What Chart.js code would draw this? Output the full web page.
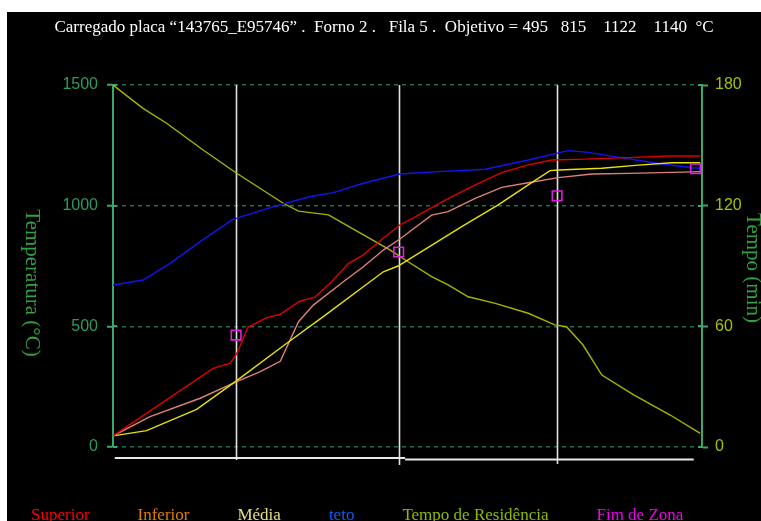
<!DOCTYPE html>
<html>
<head>
<meta charset="utf-8">
<script src="https://cdn.jsdelivr.net/npm/chart.js@4/dist/chart.umd.min.js"></script>
<style>
  html, body { margin: 0; padding: 0; background: #ffffff; }
  #wrap { position: absolute; left: 7px; top: 12px; width: 754px; height: 509px; background: #000000; overflow: hidden; }
  canvas { display: block; }
</style>
</head>
<body>
<div id="wrap"><canvas id="forno" width="754" height="509"></canvas></div>
<script>
// Position along the furnace (% of length) and readings for each curve
const posSuperior  = [0, 17.0, 19.9, 20.7, 21.3, 22.9, 26.1, 28.4, 31.7, 34.3, 37.1, 40.0, 42.5, 45.9, 48.7, 51.3, 56.4, 61.5, 66.0, 70.5, 74.5, 80.1, 87.5, 94.3, 99.7];
const tempSuperior = [46, 326, 347, 374, 402, 496, 536, 550, 604, 621, 685, 761, 796, 865, 920, 954, 1023, 1086, 1137, 1169, 1189, 1193, 1199, 1206, 1206];

const posInferior  = [0, 6.3, 14.8, 21.0, 25.0, 28.4, 31.5, 34.0, 39.1, 42.5, 45.9, 48.7, 54.1, 56.9, 61.5, 66.0, 70.5, 75.6, 81.3, 87.5, 94.9, 99.7];
const tempInferior = [46, 126, 202, 271, 312, 355, 519, 588, 685, 747, 816, 862, 961, 975, 1030, 1076, 1095, 1116, 1131, 1134, 1138, 1141];

const posMedia  = [0, 5.7, 14.2, 21.0, 29.5, 35.7, 45.9, 48.4, 50.1, 59.2, 65.4, 70.5, 74.2, 75.6, 83.0, 89.2, 94.9, 99.7];
const tempMedia = [46, 68, 156, 275, 430, 540, 726, 750, 775, 913, 1003, 1086, 1145, 1148, 1155, 1168, 1178, 1178];

const posTeto  = [0, 5.1, 9.7, 12.8, 14.8, 20.2, 22.1, 27.8, 33.4, 37.4, 42.5, 48.7, 55.2, 63.2, 70.5, 75.6, 77.3, 80.7, 85.2, 92.6, 98.3, 99.7];
const tempTeto = [671, 692, 761, 816, 851, 941, 957, 1000, 1037, 1054, 1093, 1131, 1141, 1151, 1189, 1219, 1228, 1221, 1203, 1175, 1157, 1155];

// remaining residence time (min), right axis
const posTempo = [0, 5.1, 9.1, 15.3, 21.0, 28.9, 31.5, 36.6, 39.1, 47.0, 50.1, 54.1, 56.9, 60.3, 64.9, 70.5, 75.0, 77.0, 79.8, 83.0, 88.4, 94.6, 99.7];
const minTempo = [180, 168.4, 161, 147.7, 136.1, 121.2, 117.3, 115.4, 111.2, 98, 92.1, 84.7, 80.6, 74.7, 71.4, 66.5, 60.7, 59.8, 50.7, 35.8, 25.9, 15.9, 6.8];

// end of each zone
const posFimZona  = [20.9, 48.5, 75.4, 98.9];
const tempFimZona = [464, 808, 1041, 1153];
const zoneEnds = [20.9, 48.5, 75.4];

const tempTicks = [0, 500, 1000, 1500];
const timeTicks = [0, 60, 120, 180];

const seriesNames = ['Superior', 'Inferior', 'Média', 'teto', 'Tempo de Residência', 'Fim de Zona'];
const titleText = 'Carregado placa \u201C143765_E95746\u201D .  Forno 2 .   Fila 5 .  Objetivo = 495   815    1122    1140  \u00B0C';

const pts = (xs, ys) => xs.map((x, i) => ({ x: x, y: ys[i] }));

const legendColors = ['#ff0000', '#e07c00', '#e4e07c', '#0a5cff', '#8fb800', '#ee00ee'];
const serif = '"Liberation Serif", "Times New Roman", serif';
const sans = '"Liberation Sans", Arial, sans-serif';
const axisGreen = '#3aa86e';

// zone separators, lower rule, inner tick stubs, rotated axis titles and the text legend
const decor = {
  id: 'decor',
  beforeDatasetsDraw(chart) {
    const { ctx, chartArea: a, scales: { x, y, y1 } } = chart;
    const tails = [13, 18, 17];
    ctx.save();
    ctx.strokeStyle = '#e2e2e2';
    ctx.lineWidth = 1.6;
    zoneEnds.forEach((z, i) => {
      const px = Math.round(x.getPixelForValue(z)) + 0.5;
      ctx.beginPath();
      ctx.moveTo(px, a.top);
      ctx.lineTo(px, a.bottom + tails[i]);
      ctx.stroke();
    });
    const mid = x.getPixelForValue(49.6);
    ctx.lineWidth = 2;
    ctx.strokeStyle = '#e8e8e8';
    ctx.beginPath();
    ctx.moveTo(x.getPixelForValue(0.3), a.bottom + 11);
    ctx.lineTo(mid, a.bottom + 11);
    ctx.stroke();
    ctx.beginPath();
    ctx.moveTo(mid, a.bottom + 12.5);
    ctx.lineTo(x.getPixelForValue(98.6), a.bottom + 12.5);
    ctx.stroke();

    ctx.strokeStyle = axisGreen;
    ctx.lineWidth = 2;
    tempTicks.forEach(v => {
      const py = Math.round(y.getPixelForValue(v));
      ctx.beginPath(); ctx.moveTo(a.left, py); ctx.lineTo(a.left + 4, py); ctx.stroke();
    });
    timeTicks.forEach(v => {
      const py = Math.round(y1.getPixelForValue(v));
      ctx.beginPath(); ctx.moveTo(a.right - 4, py); ctx.lineTo(a.right, py); ctx.stroke();
    });
    ctx.restore();
  },
  afterDraw(chart) {
    const { ctx, chartArea: a } = chart;
    ctx.save();
    ctx.fillStyle = '#34a040';
    ctx.font = '21px ' + serif;
    ctx.textAlign = 'center';
    ctx.textBaseline = 'middle';
    ctx.save();
    ctx.translate(25, (a.top + a.bottom) / 2 + 17);
    ctx.rotate(Math.PI / 2);
    ctx.fillText('Temperatura (\u00B0C)', 0, 0);
    ctx.restore();
    ctx.save();
    ctx.translate(746, (a.top + a.bottom) / 2 + 2);
    ctx.rotate(Math.PI / 2);
    ctx.fillText('Tempo (min)', 0, 0);
    ctx.restore();

    ctx.font = '17px ' + serif;
    ctx.textAlign = 'left';
    ctx.textBaseline = 'alphabetic';
    let lx = 24;
    seriesNames.forEach((name, i) => {
      ctx.fillStyle = legendColors[i];
      ctx.fillText(name, lx, 508);
      lx += ctx.measureText(name).width + 48;
    });
    ctx.restore();
  }
};

const lineStyle = { pointRadius: 0, pointHoverRadius: 0, tension: 0, borderWidth: 1.4, fill: false };

new Chart(document.getElementById('forno'), {
  type: 'line',
  data: {
    datasets: [
      { label: seriesNames[5], data: pts(posFimZona, tempFimZona), yAxisID: 'y', showLine: false,
        pointStyle: 'rect', pointRadius: 6.8, pointHoverRadius: 6.8, pointBorderWidth: 1.6,
        borderColor: '#e020e0', pointBorderColor: '#e020e0', backgroundColor: 'rgba(0,0,0,0)', pointBackgroundColor: 'rgba(0,0,0,0)' },
      Object.assign({ label: seriesNames[0], data: pts(posSuperior, tempSuperior), yAxisID: 'y', borderColor: '#dc0000' }, lineStyle),
      Object.assign({ label: seriesNames[2], data: pts(posMedia, tempMedia), yAxisID: 'y', borderColor: '#e6e20c' }, lineStyle),
      Object.assign({ label: seriesNames[1], data: pts(posInferior, tempInferior), yAxisID: 'y', borderColor: '#e0807a' }, lineStyle),
      Object.assign({ label: seriesNames[3], data: pts(posTeto, tempTeto), yAxisID: 'y', borderColor: '#1414f0' }, lineStyle),
      Object.assign({ label: seriesNames[4], data: pts(posTempo, minTempo), yAxisID: 'y1', borderColor: '#a6b400' }, lineStyle)
    ]
  },
  options: {
    responsive: false,
    animation: false,
    events: [],
    layout: { padding: { left: 0, right: 0, top: 0, bottom: 74 } },
    plugins: {
      legend: { display: false },
      tooltip: { enabled: false },
      title: {
        display: true,
        text: titleText,
        color: '#ffffff',
        font: { family: serif, size: 17, weight: 'normal', lineHeight: 1.2 },
        padding: { top: 5, bottom: 47.6 }
      }
    },
    scales: {
      x: { type: 'linear', min: 0, max: 100, display: false },
      y: {
        position: 'left',
        min: 0, max: 1500,
        afterBuildTicks: s => { s.ticks = tempTicks.map(v => ({ value: v })); },
        afterFit: s => { s.width = 106; },
        ticks: { color: '#2e9b5e', font: { family: sans, size: 16 }, padding: 9, callback: v => String(v) },
        grid: { color: '#1f6f4c', lineWidth: 1.5, tickLength: 6, tickColor: axisGreen, tickWidth: 2, tickBorderDash: [] },
        border: { display: true, color: axisGreen, width: 2, dash: [4, 4] }
      },
      y1: {
        position: 'right',
        min: 0, max: 180,
        afterBuildTicks: s => { s.ticks = timeTicks.map(v => ({ value: v })); },
        afterFit: s => { s.width = 59; },
        ticks: { color: '#a6c000', font: { family: sans, size: 16 }, padding: 7, callback: v => String(v) },
        grid: { drawOnChartArea: false, tickLength: 6, tickColor: axisGreen, tickWidth: 2 },
        border: { display: true, color: axisGreen, width: 2 }
      }
    }
  },
  plugins: [decor]
});
</script>
</body>
</html>
